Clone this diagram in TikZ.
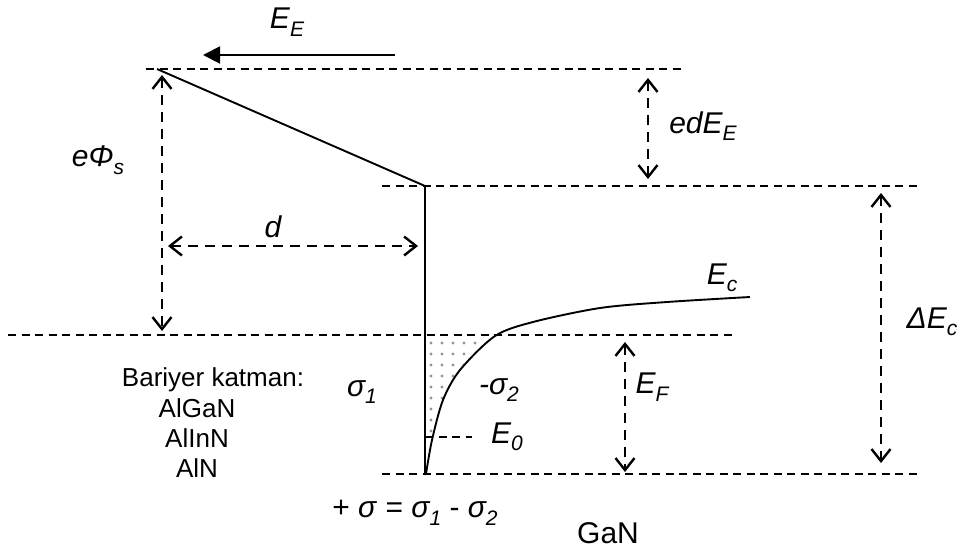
\documentclass[tikz,border=0pt]{standalone}
\usepackage{fontspec}
\setmainfont{Liberation Sans}
\usetikzlibrary{arrows.meta}
\newcommand{\mysb}[1]{\raisebox{-0.25em}{\fontsize{21pt}{21pt}\selectfont #1}}
\begin{document}
\begin{tikzpicture}[x=1pt,y=-1pt,
  hline/.style={line width=1.9pt,dash pattern=on 8pt off 5.5pt},
  dimarrow/.style={line width=2.4pt,dash pattern=on 10pt off 7pt,
    {Straight Barb[length=12pt,width=19pt,line width=2.4pt]}-{Straight Barb[length=12pt,width=19pt,line width=2.4pt]}},
  solidline/.style={line width=1.9pt},
  lbl/.style={font=\fontsize{30pt}{30pt}\selectfont\itshape,inner sep=0pt},
  txt/.style={font=\fontsize{26pt}{26pt}\selectfont,inner sep=0pt}]
\useasboundingbox (0,0) rectangle (962,552);
% levels
\coordinate (t1) at (146,69);  \coordinate (t2) at (685,69);
\coordinate (m1) at (382,186); \coordinate (m2) at (920,186);
\coordinate (f1) at (8,335);   \coordinate (f2) at (733,335);
\coordinate (b1) at (382,474); \coordinate (b2) at (920,474);
\draw[hline] (t1) -- (t2);
\draw[hline] (m1) -- (m2);
\draw[hline] (f1) -- (f2);
\draw[hline] (b1) -- (b2);
% dots region
\begin{scope}
  \clip (428,338) rectangle (500,474);
  \clip plot[smooth] coordinates {(426,474) (432,440) (443,400) (460,370) (495,336) (533,322) (600,308) (667,302) (750,297)} -- (750,337) -- (427,337) -- cycle;
  \foreach \xx in {431,442,453,464,475}
    \foreach \yy in {343,354,365,376,387,398,409,420,431}
      \fill[gray!85] (\xx,\yy) circle (1.7pt);
\end{scope}
% band edge
\coordinate (s) at (157,69);
\coordinate (k) at (425,186);
\coordinate (kb) at (425,475);
\draw[solidline] (s) -- (k) -- (kb);
% E0
\coordinate (e0a) at (425,437); \coordinate (e0b) at (472,437);
\draw[hline] (e0a) -- (e0b);
% Ec curve
\draw[solidline] plot[smooth] coordinates {(426,474) (432,440) (443,400) (460,370) (495,336) (533,322) (600,308) (667,302) (750,297)};
% field arrow
\coordinate (ea) at (395,55); \coordinate (eb) at (203,55);
\draw[solidline,-{Triangle[length=17pt,width=17pt]}] (ea) -- (eb);
% dimension arrows
\coordinate (p1) at (162,75);  \coordinate (p2) at (162,331);
\draw[dimarrow] (p1) -- (p2);
\coordinate (d1) at (168,246); \coordinate (d2) at (418,246);
\draw[dimarrow] (d1) -- (d2);
\coordinate (q1) at (648,78);  \coordinate (q2) at (648,179);
\draw[dimarrow] (q1) -- (q2);
\coordinate (c1) at (881,193); \coordinate (c2) at (881,463);
\draw[dimarrow] (c1) -- (c2);
\coordinate (g1) at (625,342); \coordinate (g2) at (625,472);
\draw[dimarrow] (g1) -- (g2);
% labels
\node[lbl] (lEE) at (287,22) {E\mysb{E}};
\node[lbl] (ledE) at (703,126) {edE\mysb{E}};
\node[lbl] (lphi) at (98,160) {eΦ\mysb{s}};
\node[lbl] (ld) at (273,227) {d};
\node[lbl] (lEc) at (722,278) {E\mysb{c}};
\node[lbl] (lDEc) at (932,322) {ΔE\mysb{c}};
\node[lbl] (lEF) at (652,387) {E\mysb{F}};
\node[lbl] (ls2) at (499,390) {-σ\mysb{2}};
\node[lbl] (lE0) at (507,437) {E\mysb{0}};
\node[lbl] (ls1) at (362,392) {σ\mysb{1}};
\node[lbl,font=\fontsize{30pt}{30pt}\selectfont] (lsum) at (415,513) {+ \textit{σ} = \textit{σ\mysb{1}} - \textit{σ\mysb{2}}};
\node[txt,font=\fontsize{30pt}{30pt}\selectfont] (lgan) at (608,533) {GaN};
\node[txt,anchor=base] (lb1) at (213,386) {Bariyer katman:};
\node[txt,anchor=base] (lb2) at (197,417) {AlGaN};
\node[txt,anchor=base] (lb3) at (197,447) {AlInN};
\node[txt,anchor=base] (lb4) at (197,477) {AlN};
\end{tikzpicture}
\end{document}
